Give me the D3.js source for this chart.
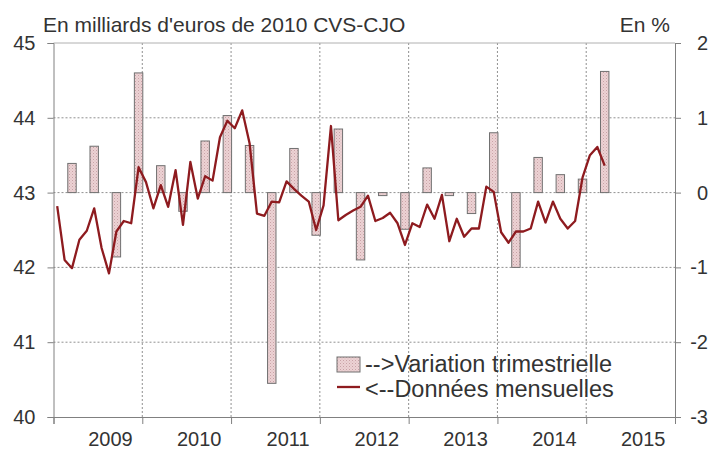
<!DOCTYPE html>
<html>
<head>
<meta charset="utf-8">
<script src="https://cdn.jsdelivr.net/npm/d3@7"></script>
<style>
  body { margin: 0; background: #fff; }
  svg { display: block; font-family: "Liberation Sans", Arial, sans-serif; }
</style>
</head>
<body>
<svg id="chart" width="712" height="450"></svg>
<script>
// Années affichées sous l'axe
const YEARS = [2009, 2010, 2011, 2012, 2013, 2014, 2015];

// Données mensuelles (Mds d'euros 2010), janv. 2009 -> mars 2015
const MONTHLY = [
  42.82, 42.10, 41.99, 42.37, 42.49, 42.79, 42.26, 41.92, 42.48, 42.62, 42.59, 43.34,
  43.14, 42.79, 43.10, 42.81, 43.30, 42.57, 43.41, 42.92, 43.22, 43.16, 43.74, 43.96,
  43.86, 44.10, 43.66, 42.72, 42.69, 42.88, 42.87, 43.15, 43.05, 42.96, 42.88, 42.50,
  42.83, 43.89, 42.63, 42.70, 42.76, 42.81, 42.96, 42.62, 42.66, 42.73, 42.59, 42.30,
  42.59, 42.54, 42.84, 42.65, 42.97, 42.35, 42.65, 42.41, 42.52, 42.52, 43.08, 43.01,
  42.47, 42.33, 42.48, 42.48, 42.52, 42.88, 42.60, 42.88, 42.65, 42.52, 42.62, 43.20,
  43.50, 43.61, 43.36
];

// Variation trimestrielle (%), T1 2009 -> T1 2015
const QUARTERLY = [
  0.39, 0.62, -0.86, 1.60,
  0.36, -0.25, 0.69, 1.03,
  0.63, -2.55, 0.59, -0.57,
  0.85, -0.90, -0.04, -0.49,
  0.33, -0.04, -0.28, 0.80,
  -1.00, 0.47, 0.24, 0.18,
  1.62
];

const LEFT_TICKS = [40, 41, 42, 43, 44, 45];
const RIGHT_TICKS = [-3, -2, -1, 0, 1, 2];

const svg = d3.select('#chart');
const M = { left: 53.5, right: 675, top: 43, bottom: 417 };
const AXIS = '#808080';
const TEXT = '#333';

// mois 0 = janvier 2009
const x = d3.scaleLinear().domain([-0.5, YEARS.length * 12 - 0.5]).range([M.left, M.right]);
const yL = d3.scaleLinear().domain([40, 45]).range([M.bottom, M.top]);
const yR = d3.scaleLinear().domain([-3, 2]).range([M.bottom, M.top]);

// motif pointillé des barres
const defs = svg.append('defs');
const pat = defs.append('pattern')
  .attr('id', 'dots').attr('width', 3).attr('height', 3)
  .attr('patternUnits', 'userSpaceOnUse');
pat.append('rect').attr('width', 3).attr('height', 3).attr('fill', '#ecd2d4');
pat.append('rect').attr('width', 1).attr('height', 1).attr('fill', '#c9a2a6');
pat.append('rect').attr('x', 1.5).attr('y', 1.5).attr('width', 1).attr('height', 1).attr('fill', '#d8b6b9');

// grille horizontale
svg.append('g').selectAll('line')
  .data(LEFT_TICKS.slice(1, -1))
  .join('line')
  .attr('x1', M.left).attr('x2', M.right)
  .attr('y1', d => yL(d)).attr('y2', d => yL(d))
  .attr('stroke', '#909090').attr('stroke-dasharray', '2,2');

// grille verticale (limites d'année)
const bounds = d3.range(1, YEARS.length).map(i => i * 12 - 0.5);
svg.append('g').selectAll('line')
  .data(bounds)
  .join('line')
  .attr('x1', d => x(d)).attr('x2', d => x(d))
  .attr('y1', M.top).attr('y2', M.bottom)
  .attr('stroke', '#909090').attr('stroke-dasharray', '2,2');

// cadre haut
svg.append('line')
  .attr('x1', M.left).attr('x2', M.right).attr('y1', M.top).attr('y2', M.top)
  .attr('stroke', '#b0b0b0');

// barres trimestrielles (centrées sur le 3e mois du trimestre)
const bw = x(3) - x(0);
svg.append('g').selectAll('rect')
  .data(QUARTERLY)
  .join('rect')
  .attr('x', (d, i) => x(i * 3 + 2) - bw * 0.19)
  .attr('width', bw * 0.38)
  .attr('y', d => yR(Math.max(0, d)))
  .attr('height', d => Math.abs(yR(d) - yR(0)))
  .attr('fill', 'url(#dots)')
  .attr('stroke', '#707070')
  .attr('stroke-width', 1);

// courbe mensuelle
const line = d3.line().x((d, i) => x(i)).y(d => yL(d));
svg.append('path')
  .datum(MONTHLY)
  .attr('d', line)
  .attr('fill', 'none')
  .attr('stroke', '#8e1b1f')
  .attr('stroke-width', 2.3)
  .attr('stroke-linejoin', 'round');

// axe gauche
const gL = svg.append('g')
  .attr('transform', `translate(${M.left},0)`)
  .call(d3.axisLeft(yL).tickValues(LEFT_TICKS).tickSize(6).tickPadding(12).tickFormat(d => String(d)));
gL.select('.domain').attr('stroke', AXIS);
gL.selectAll('.tick line').attr('stroke', AXIS);
gL.selectAll('text').attr('font-size', 20).attr('fill', TEXT).attr('font-family', null);

// axe droit
const gR = svg.append('g')
  .attr('transform', `translate(${M.right},0)`)
  .call(d3.axisRight(yR).tickValues(RIGHT_TICKS).tickSize(6).tickFormat(d => String(d)));
gR.select('.domain').attr('stroke', AXIS);
gR.selectAll('.tick line').attr('stroke', AXIS);
gR.selectAll('text')
  .attr('x', 33).attr('text-anchor', 'end')
  .attr('font-size', 20).attr('fill', TEXT).attr('font-family', null);

// axe bas
const gB = svg.append('g')
  .attr('transform', `translate(0,${M.bottom})`)
  .call(d3.axisBottom(x).tickValues([-0.5, ...bounds, YEARS.length * 12 - 0.5]).tickSize(7).tickFormat(''));
gB.select('.domain').attr('stroke', AXIS);
gB.selectAll('.tick line').attr('stroke', AXIS);

svg.append('g').selectAll('text')
  .data(YEARS)
  .join('text')
  .attr('x', (d, i) => x(i * 12 + 7.2))
  .attr('y', 446)
  .attr('text-anchor', 'middle')
  .attr('font-size', 20)
  .attr('fill', TEXT)
  .text(d => d);

// titres
svg.append('text')
  .attr('x', 43).attr('y', 32)
  .attr('font-size', 21).attr('fill', TEXT)
  .text("En milliards d'euros de 2010 CVS-CJO");
svg.append('text')
  .attr('x', 670).attr('y', 32).attr('text-anchor', 'end')
  .attr('font-size', 21).attr('fill', TEXT)
  .text('En %');

// légende
const lg = svg.append('g').attr('transform', 'translate(337,357)');
lg.append('rect')
  .attr('width', 23).attr('height', 15)
  .attr('fill', 'url(#dots)').attr('stroke', '#707070');
lg.append('line')
  .attr('x1', 0).attr('x2', 23).attr('y1', 30).attr('y2', 30)
  .attr('stroke', '#8e1b1f').attr('stroke-width', 2.3);
lg.append('text')
  .attr('x', 28).attr('y', 15)
  .attr('font-size', 23.5).attr('fill', TEXT)
  .text('-->Variation trimestrielle');
lg.append('text')
  .attr('x', 28).attr('y', 40)
  .attr('font-size', 23.5).attr('fill', TEXT)
  .text('<--Données mensuelles');
</script>
</body>
</html>
